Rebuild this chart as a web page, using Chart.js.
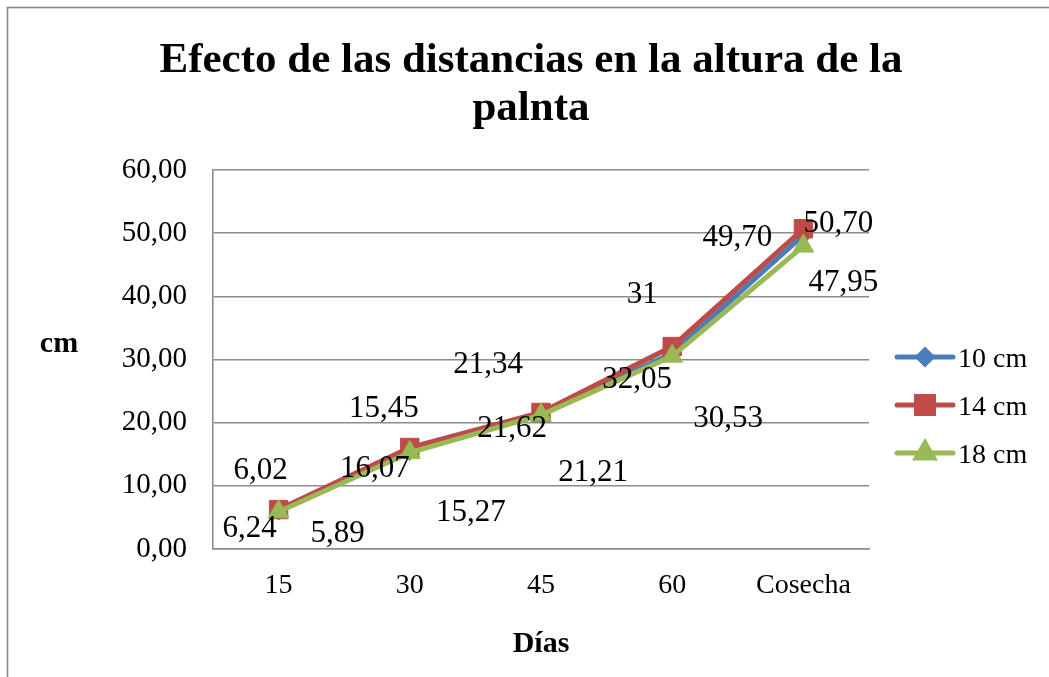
<!DOCTYPE html>
<html lang="es">
<head>
<meta charset="utf-8">
<title>Efecto de las distancias en la altura de la palnta</title>
<script src="https://cdn.jsdelivr.net/npm/chart.js@4/dist/chart.umd.min.js"></script>
<style>
  html, body { margin: 0; padding: 0; background: #ffffff; }
  #wrap { width: 1049px; height: 677px; position: relative; }
</style>
</head>
<body>
<div id="wrap"><canvas id="chart" width="1049" height="677"></canvas></div>
<script>
// Sampling days and plant heights (cm) for each planting distance
const categories = ['15', '30', '45', '60', 'Cosecha'];
const seriesNames = ['10 cm', '14 cm', '18 cm'];
const height10 = [6.02, 15.45, 21.34, 31, 49.70];
const height14 = [6.24, 16.07, 21.62, 32.05, 50.70];
const height18 = [5.89, 15.27, 21.21, 30.53, 47.95];
const yTicks = [0, 10, 20, 30, 40, 50, 60];

const titleLines = ['Efecto de las distancias en la altura de la', 'palnta'];
const xTitle = 'Días';
const yTitle = 'cm';

const SERIF = "'Liberation Serif', 'Times New Roman', serif";
const GRID = '#8c8c8c';

// Hand-placed value label offsets (px from each point), per series
const labelShift = [
  [[-18, -42], [-26, -44], [-53, -51], [-30, -60], [-66, 1]],
  [[-29, 17], [-35, 20], [-29, 15], [-35, 31], [35, -7]],
  [[59, 20], [61, 58], [52, 56], [56, 61], [40, 35]]
];

function fmt(v) {
  return Number.isInteger(v) ? String(v) : v.toFixed(2).replace('.', ',');
}

const frame = {
  id: 'frame',
  beforeDraw(chart) {
    const ctx = chart.ctx;
    ctx.save();
    ctx.fillStyle = '#ffffff';
    ctx.fillRect(0, 0, chart.width, chart.height);
    ctx.strokeStyle = '#888888';
    ctx.lineWidth = 1.6;
    ctx.strokeRect(7.5, 7.5, chart.width + 20, chart.height + 20);
    ctx.restore();
  }
};

const annotations = {
  id: 'annotations',
  afterDraw(chart) {
    const ctx = chart.ctx;
    ctx.save();
    ctx.fillStyle = '#000000';
    ctx.textAlign = 'center';
    ctx.textBaseline = 'alphabetic';

    // title
    ctx.font = 'bold 43px ' + SERIF;
    ctx.fillText(titleLines[0], 531, 72);
    ctx.fillText(titleLines[1], 531, 120);

    // axis titles
    ctx.font = 'bold 30px ' + SERIF;
    ctx.fillText(xTitle, 541, 652);
    ctx.fillText(yTitle, 59, 352);

    // value labels
    ctx.font = '31px ' + SERIF;
    chart.data.datasets.forEach((ds, i) => {
      const meta = chart.getDatasetMeta(i);
      meta.data.forEach((pt, j) => {
        const [dx, dy] = labelShift[i][j];
        ctx.fillText(fmt(ds.data[j]), pt.x + dx, pt.y + dy + 10);
      });
    });

    // legend
    const lx0 = 897, lx1 = 953, rows = [357, 405, 453];
    ctx.textAlign = 'left';
    ctx.font = '28px ' + SERIF;
    chart.data.datasets.forEach((ds, i) => {
      const y = rows[i];
      ctx.strokeStyle = ds.borderColor;
      ctx.lineWidth = 5;
      ctx.lineCap = 'round';
      ctx.beginPath();
      ctx.moveTo(lx0, y);
      ctx.lineTo(lx1, y);
      ctx.stroke();
      ctx.fillStyle = ds.pointBackgroundColor;
      ctx.strokeStyle = ds.pointBorderColor;
      Chart.helpers.drawPoint(ctx, {
        pointStyle: ds.pointStyle,
        radius: ds.legendRadius,
        rotation: 0,
        borderWidth: 1
      }, (lx0 + lx1) / 2, y);
      ctx.fillStyle = '#000000';
      ctx.fillText(ds.label, 958, y + 10);
    });
    ctx.restore();
  }
};

function series(label, data, color, style, radius, legendRadius, order) {
  return {
    label, data, order,
    borderColor: color,
    backgroundColor: color,
    pointBackgroundColor: color,
    pointBorderColor: color,
    borderWidth: 5,
    pointStyle: style,
    pointRadius: radius,
    pointHoverRadius: radius,
    pointBorderWidth: 1,
    legendRadius,
    tension: 0,
    fill: false
  };
}

new Chart(document.getElementById('chart'), {
  type: 'line',
  data: {
    labels: categories,
    datasets: [
      series(seriesNames[0], height10, '#4a7ebb', 'rectRot', 9, 7, 3),
      series(seriesNames[1], height14, '#be4b48', 'rect', 13, 12, 2),
      series(seriesNames[2], height18, '#98b954', 'triangle', 12, 10, 1)
    ]
  },
  options: {
    responsive: false,
    animation: false,
    events: [],
    layout: { padding: { left: 0, top: 170, right: 180, bottom: 0 } },
    plugins: {
      legend: { display: false },
      title: { display: false },
      tooltip: { enabled: false }
    },
    scales: {
      x: {
        offset: true,
        afterFit(s) { s.height = 128; },
        grid: { display: false, drawTicks: false },
        border: { display: true, color: GRID, width: 1.6 },
        ticks: {
          color: '#000000',
          font: { family: SERIF, size: 28 },
          padding: 20,
          maxRotation: 0
        }
      },
      y: {
        min: 0,
        max: 60,
        afterFit(s) { s.width = 213; },
        afterBuildTicks(s) { s.ticks = yTicks.map(v => ({ value: v })); },
        grid: { color: GRID, lineWidth: 1.6, drawTicks: false },
        border: { display: true, color: GRID, width: 1.6 },
        ticks: {
          color: '#000000',
          font: { family: SERIF, size: 29 },
          padding: 26,
          callback: v => v.toFixed(2).replace('.', ',')
        }
      }
    }
  },
  plugins: [frame, annotations]
});
</script>
</body>
</html>
